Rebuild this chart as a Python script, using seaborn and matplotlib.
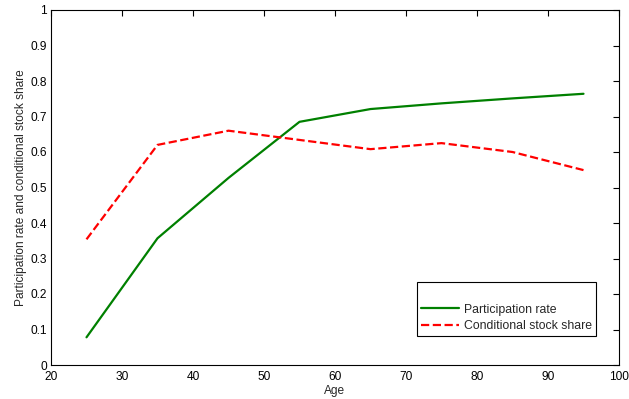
import matplotlib
matplotlib.use("Agg")
import matplotlib.pyplot as plt
import seaborn as sns
import pandas as pd

ages = [25, 35, 45, 55, 65, 75, 85, 95]
participation = [0.078, 0.357, 0.527, 0.685, 0.721, 0.737, 0.751, 0.764]
stock_share = [0.354, 0.620, 0.660, 0.634, 0.608, 0.625, 0.600, 0.549]
x_ticks = [20, 30, 40, 50, 60, 70, 80, 90, 100]
y_ticks = [0, 0.1, 0.2, 0.3, 0.4, 0.5, 0.6, 0.7, 0.8, 0.9, 1]
y_tick_labels = ["0", "0.1", "0.2", "0.3", "0.4", "0.5", "0.6", "0.7", "0.8", "0.9", "1"]

sns.set_theme(style="white")
plt.rcParams["font.family"] = ["Liberation Sans", "DejaVu Sans"]
plt.rcParams["font.size"] = 8.6

fig = plt.figure(figsize=(6.29, 3.99), dpi=100)
ax = fig.add_axes([51 / 629, 34 / 399, 568 / 629, 355 / 399])

df = pd.DataFrame({"Age": ages, "Participation rate": participation,
                   "Conditional stock share": stock_share})

sns.lineplot(data=df, x="Age", y="Participation rate", ax=ax, color="#008000",
             lw=1.6, label="Participation rate")
sns.lineplot(data=df, x="Age", y="Conditional stock share", ax=ax, color="#ff0000",
             lw=1.6, linestyle="--", label="Conditional stock share")

ax.set_xlim(20, 100)
ax.set_ylim(0, 1)
ax.set_xticks(x_ticks)
ax.set_xticklabels([str(v) for v in x_ticks])
ax.set_yticks(y_ticks)
ax.set_yticklabels(y_tick_labels)
ax.tick_params(direction="in", length=4, width=0.8, top=True, right=True,
               labelsize=8.6, colors="black")
ax.tick_params(axis="x", pad=4)
ax.tick_params(axis="y", pad=3)
for s in ax.spines.values():
    s.set_color("black")
    s.set_linewidth(0.8)
ax.set_xlabel("Age", fontsize=8.6, labelpad=1.5)
ax.set_ylabel("Participation rate and conditional stock share", fontsize=8.6, labelpad=2.5)

leg = ax.legend(loc="lower right", bbox_to_anchor=(0.9595, 0.0825), borderaxespad=0,
                fontsize=8.8, frameon=True, fancybox=False, edgecolor="black",
                framealpha=1, handlelength=3.1, handletextpad=0.45, borderpad=0.3,
                labelspacing=0.35, title=" ", title_fontsize=11)
leg.get_frame().set_linewidth(0.8)

fig.savefig("out.png", dpi=100)
